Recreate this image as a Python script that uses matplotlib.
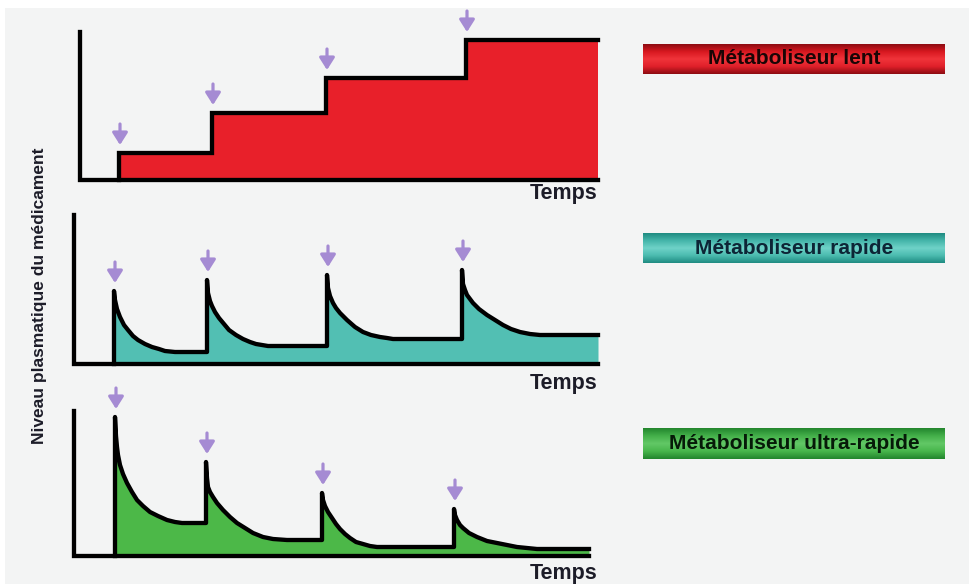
import numpy as np
import matplotlib
matplotlib.use("Agg")
import matplotlib.pyplot as plt
from matplotlib.colors import LinearSegmentedColormap

# --- data (time units and levels) ---
lent_doses = [39, 132, 246, 386]
lent_levels = [27, 67, 102, 140]
lent_end = 518

# fast metaboliser: dose times, then time after dose / level for each decay
rap_doses = [40, 133, 253, 388]
rap_dt = [
    [0, 1, 3, 6, 10, 14, 19, 24, 31, 38, 45, 51, 61],
    [0, 1, 3, 5, 8, 12, 17, 22, 29, 36, 43, 49, 55, 61],
    [0, 1, 3, 6, 9, 13, 20, 28, 36, 44, 53, 60, 66],
    [0, 1, 3, 5, 8, 11, 17, 25, 33, 41, 49, 58, 68, 78],
]
rap_lv = [
    [73, 64, 55, 47, 39, 34, 28, 24, 20, 17, 15, 13, 12],
    [84, 71, 63, 58, 52, 46, 40, 34, 29, 25, 22, 20, 19, 18],
    [89, 76, 68, 61, 56, 51, 44, 37, 32, 29, 27, 26, 25],
    [94, 80, 74, 69, 65, 61, 55, 49, 44, 39, 35, 32, 30, 29],
]
rap_end = 524

# ultra-fast metaboliser
ultra_doses = [41, 132, 248, 380]
ultra_dt = [
    [0, 1, 2, 3, 5, 8, 12, 17, 22, 28, 35, 43, 52, 60, 67],
    [0, 1, 2, 4, 7, 11, 17, 24, 31, 39, 47, 57, 67, 81],
    [0, 1, 3, 6, 10, 14, 18, 23, 28, 34, 41, 48, 55],
    [0, 1, 3, 6, 9, 15, 23, 33, 43, 53, 63, 73, 83],
]
ultra_lv = [
    [139, 120, 109, 101, 91, 82, 73, 64, 56, 50, 44, 40, 36, 34, 33],
    [94, 78, 69, 64, 59, 53, 46, 39, 33, 28, 23, 19, 17, 16],
    [63, 56, 50, 44, 38, 32, 27, 22, 18, 14, 12, 10, 9],
    [47, 41, 36, 31, 28, 23, 19, 15, 13, 11, 9, 8, 7],
]
ultra_end = 515

labels = ["Métaboliseur lent", "Métaboliseur rapide", "Métaboliseur ultra-rapide"]
xlabel = "Temps"
ylabel = "Niveau plasmatique du médicament"

RED = "#e8202a"
TEAL = "#52bfb3"
GREEN = "#4cb848"
ARROW = "#a58bd3"
INK = "#1c1c28"
BG = "#f3f4f4"

W, H = 970, 584
plt.rcParams["font.family"] = ["Liberation Sans", "DejaVu Sans"]

fig = plt.figure(figsize=(W / 100, H / 100), dpi=100)
fig.patch.set_facecolor("white")
bg = fig.add_axes([5 / W, 0, 1, 1 - 8 / H])
bg.set_axis_off()
bg.add_patch(plt.Rectangle((0, 0), 1, 1, color=BG, transform=bg.transAxes))


def panel(x0, base, h):
    ax = fig.add_axes([x0 / W, 1 - base / H, 560 / W, h / H])
    ax.set_xlim(0, 560)
    ax.set_ylim(0, h)
    ax.set_axis_off()
    return ax


def arrow(ax, t, peak, gap=8, length=21):
    ax.annotate("", xy=(t + 1, peak + gap), xytext=(t + 1, peak + gap + length),
                arrowprops=dict(arrowstyle="-|>,head_length=0.6,head_width=0.38",
                                color=ARROW, lw=2.3, shrinkA=0, shrinkB=0,
                                mutation_scale=12),
                annotation_clip=False)


def axes_lines(ax, h, end):
    ax.plot([0, 0, end], [h, 0, 0], color="black", lw=3.1,
            solid_joinstyle="miter", solid_capstyle="projecting", zorder=4, clip_on=False)


def temps(ax, x, dy):
    ax.text(x, -dy, xlabel, ha="right", va="center", fontsize=15.5,
            fontweight="bold", color=INK, clip_on=False)


# top panel: slow metaboliser (steps)
ax1 = panel(80, 180, 148)
xs = [lent_doses[0]]
ys = [0]
for i, (t, lv) in enumerate(zip(lent_doses, lent_levels)):
    nxt = lent_doses[i + 1] if i + 1 < len(lent_doses) else lent_end
    xs += [t, nxt]
    ys += [lv, lv]
ax1.fill_between(xs, ys, 0, color=RED, lw=0, zorder=2)
ax1.plot(xs, ys, color="black", lw=3.1, solid_joinstyle="miter", zorder=3, clip_on=False)
axes_lines(ax1, 148, lent_end)
for t, lv in zip(lent_doses, lent_levels):
    arrow(ax1, t, lv)
temps(ax1, lent_end, 13)


def decay_panel(ax, doses, dts, lvs, end, color, h):
    xs = [doses[0]]
    ys = [0]
    for i, (t0, dt, lv) in enumerate(zip(doses, dts, lvs)):
        nxt = doses[i + 1] if i + 1 < len(doses) else end
        xs += [t0 + d for d in dt] + [nxt]
        ys += list(lv) + [lv[-1]]
    ax.fill_between(xs, ys, 0, color=color, lw=0, zorder=2)
    ax.plot(xs, ys, color="black", lw=3.1, solid_joinstyle="round", zorder=3, clip_on=False)
    axes_lines(ax, h, end)
    for t0, lv in zip(doses, lvs):
        arrow(ax, t0, lv[0])


ax2 = panel(74, 364, 149)
decay_panel(ax2, rap_doses, rap_dt, rap_lv, rap_end, TEAL, 149)
temps(ax2, 524, 19)

ax3 = panel(74, 556, 145)
decay_panel(ax3, ultra_doses, ultra_dt, ultra_lv, ultra_end, GREEN, 145)
temps(ax3, 524, 17)

fig.text(40 / W, 1 - 296 / H, ylabel, rotation=90, ha="center", va="center",
         fontsize=12.5, fontweight="bold", color=INK)

# legend boxes with a soft vertical gradient
boxes = [(44, 74, ["#8e0c12", "#d81820", "#f0343a", "#e0202a", "#8e0c12"], "#1a0505"),
         (233, 263, ["#1f8c82", "#45b5aa", "#6fd2c8", "#4cbcb0", "#1f8c82"], "#0d2536"),
         (428, 459, ["#23862e", "#44b04a", "#62c866", "#48b64c", "#23862e"], "#061a08")]
for (y0, y1, cols, tc), lab in zip(boxes, labels):
    bx = fig.add_axes([643 / W, 1 - y1 / H, (945 - 643) / W, (y1 - y0) / H])
    cmap = LinearSegmentedColormap.from_list("g", cols)
    grad = np.linspace(0, 1, 60).reshape(-1, 1)
    bx.imshow(grad, aspect="auto", cmap=cmap, extent=(0, 1, 0, 1))
    bx.set_axis_off()
    bx.text(0.5, 0.5, lab, ha="center", va="center", fontsize=15,
            fontweight="bold", color=tc, transform=bx.transAxes)

fig.savefig("out.png", dpi=100, facecolor=fig.get_facecolor())
